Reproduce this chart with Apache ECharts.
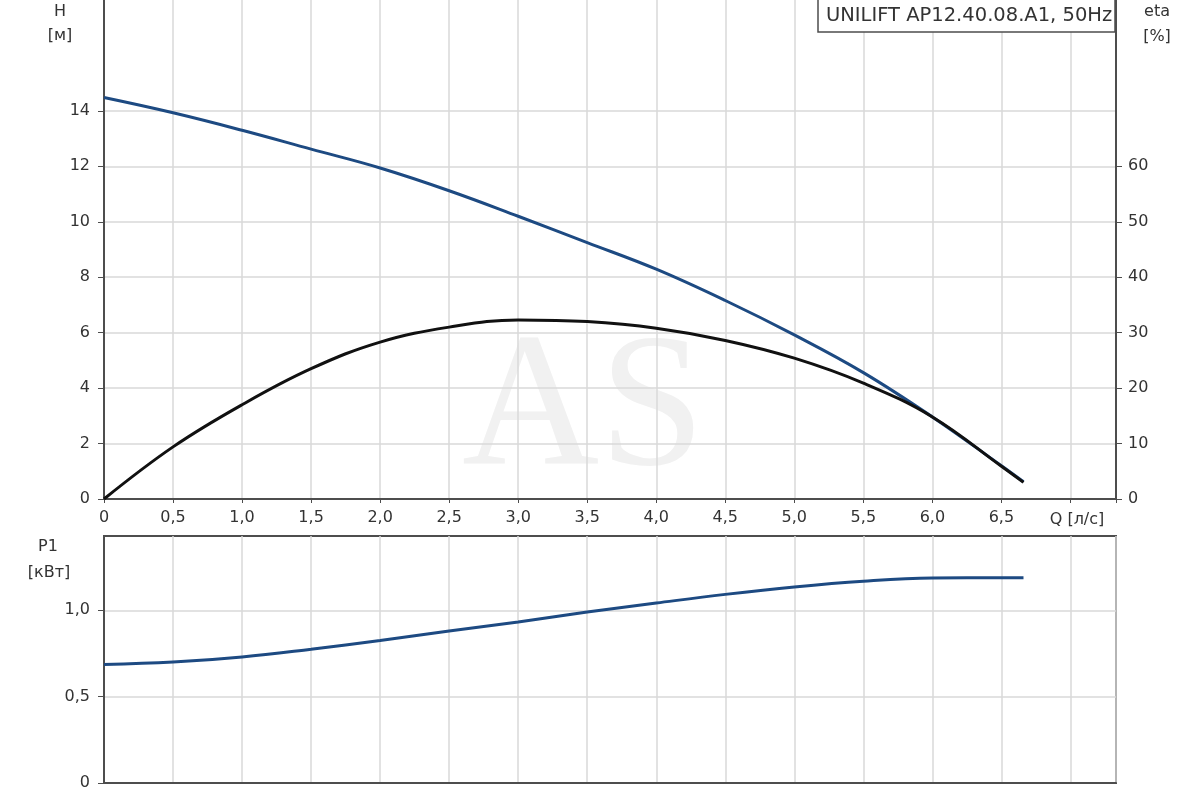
<!DOCTYPE html>
<html>
<head>
<meta charset="utf-8">
<script src="https://cdn.jsdelivr.net/npm/echarts@6/dist/echarts.min.js"></script>
<style>
  html, body { margin: 0; padding: 0; background: #fff; }
  #chart { width: 1200px; height: 800px; }
</style>
</head>
<body>
<div id="chart"></div>
<script>
// расход Q, л/с
var flow = [0, 0.5, 1.0, 1.5, 2.0, 2.5, 3.0, 3.5, 4.0, 4.5, 5.0, 5.5, 6.0, 6.5, 6.66];
// напор H, м
var head = [14.48, 13.93, 13.3, 12.62, 11.94, 11.12, 10.2, 9.25, 8.29, 7.16, 5.92, 4.56, 2.96, 1.2, 0.62];
// КПД eta, %
var eta = [0, 9.4, 17, 23.5, 28.3, 31, 32.3, 32.0, 30.8, 28.6, 25.4, 20.9, 14.8, 5.9, 3.0];
// мощность P1, кВт
var power = [0.686, 0.70, 0.73, 0.775, 0.825, 0.88, 0.932, 0.99, 1.042, 1.092, 1.135, 1.168, 1.187, 1.189, 1.189];

var headTicks = [0, 2, 4, 6, 8, 10, 12, 14];
var etaTicks = [0, 10, 20, 30, 40, 50, 60];
var powerTicks = [0, 0.5, 1.0];

function pairs(xs, ys) {
  return xs.map(function (x, i) { return [x, ys[i]]; });
}
function comma(v) {
  return v === 0 ? '0' : v.toFixed(1).replace('.', ',');
}

var chart = echarts.init(document.getElementById('chart'));

var lineCol = '#4d4d4d';
var gridCol = '#d9d9d9';
var fontFam = '"DejaVu Sans", sans-serif';
var txt = { color: '#333', fontFamily: fontFam, fontSize: 16 };
var nameFont = '16px "DejaVu Sans", sans-serif';

function label(t, x, y) {
  return { type: 'text', x: x, y: y, style: { text: t, fill: '#333', font: nameFont, align: 'center', verticalAlign: 'middle' } };
}

var option = {
  animation: false,
  textStyle: { fontFamily: fontFam },
  grid: [
    { left: 104, right: 84, top: 0, bottom: 301 },
    { left: 104, right: 84, top: 536, bottom: 17, show: true, borderColor: lineCol, borderWidth: 2 }
  ],
  xAxis: [
    {
      type: 'value', gridIndex: 0, min: 0, max: 7.33, interval: 0.5,
      axisLine: { lineStyle: { color: lineCol, width: 2 } },
      axisTick: { length: 4, lineStyle: { color: lineCol } },
      splitLine: { lineStyle: { color: gridCol, width: 1.5 } },
      axisLabel: Object.assign({ margin: 11, formatter: function (v) { return v > 6.9 ? '' : comma(v); } }, txt)
    },
    {
      type: 'value', gridIndex: 1, min: 0, max: 7.33, interval: 0.5,
      axisLine: { lineStyle: { color: lineCol, width: 2 } },
      axisTick: { show: false },
      splitLine: { lineStyle: { color: gridCol, width: 1.5 } },
      axisLabel: { show: false }
    }
  ],
  yAxis: [
    {
      type: 'value', gridIndex: 0, min: 0, max: 18, interval: 2,
      axisLine: { show: true, lineStyle: { color: lineCol, width: 2 } },
      axisTick: { show: true, length: 6, customValues: headTicks, lineStyle: { color: lineCol } },
      splitLine: { lineStyle: { color: gridCol, width: 1.5 } },
      axisLabel: Object.assign({ margin: 14, customValues: headTicks }, txt)
    },
    {
      type: 'value', gridIndex: 0, position: 'right', min: 0, max: 90, interval: 10,
      axisLine: { show: true, lineStyle: { color: lineCol, width: 2 } },
      axisTick: { show: true, length: 6, customValues: etaTicks, lineStyle: { color: lineCol } },
      splitLine: { show: false },
      axisLabel: Object.assign({ margin: 12, customValues: etaTicks }, txt)
    },
    {
      type: 'value', gridIndex: 1, min: 0, max: 1.43, interval: 0.5,
      axisLine: { show: true, lineStyle: { color: lineCol, width: 2 } },
      axisTick: { show: true, length: 6, customValues: powerTicks, lineStyle: { color: lineCol } },
      splitLine: { lineStyle: { color: gridCol, width: 1.5 } },
      axisLabel: Object.assign({ margin: 14, customValues: powerTicks, formatter: comma }, txt)
    }
  ],
  graphic: [
    {
      type: 'text', x: 462, y: 414, z: -10, silent: true,
      style: { text: 'AS', font: '190px "Liberation Serif", serif', fill: '#f1f1f1', verticalAlign: 'middle' }
    },
    {
      type: 'rect', shape: { x: 818, y: -2, width: 297, height: 34 },
      style: { fill: '#fff', stroke: lineCol, lineWidth: 1.5 }, z: 50
    },
    {
      type: 'text', x: 826, y: 16, z: 51,
      style: { text: 'UNILIFT AP12.40.08.A1, 50Hz', fill: '#333', font: '19.5px "DejaVu Sans", sans-serif', verticalAlign: 'middle' }
    },
    label('H', 60, 12),
    label('[м]', 60, 36),
    label('eta', 1157, 12),
    label('[%]', 1157, 37),
    label('Q [л/с]', 1077, 520),
    label('P1', 48, 547),
    label('[кВт]', 49, 573)
  ],
  series: [
    {
      name: 'H', type: 'line', xAxisIndex: 0, yAxisIndex: 0, smooth: 0.4, symbol: 'none',
      lineStyle: { color: '#1d4a82', width: 3 },
      data: pairs(flow, head)
    },
    {
      name: 'eta', type: 'line', xAxisIndex: 0, yAxisIndex: 1, smooth: 0.4, symbol: 'none',
      lineStyle: { color: '#111', width: 3 },
      data: pairs(flow, eta)
    },
    {
      name: 'P1', type: 'line', xAxisIndex: 1, yAxisIndex: 2, smooth: 0.4, symbol: 'none',
      lineStyle: { color: '#1d4a82', width: 3 },
      data: pairs(flow, power)
    }
  ]
};

option && chart.setOption(option);
</script>
</body>
</html>
